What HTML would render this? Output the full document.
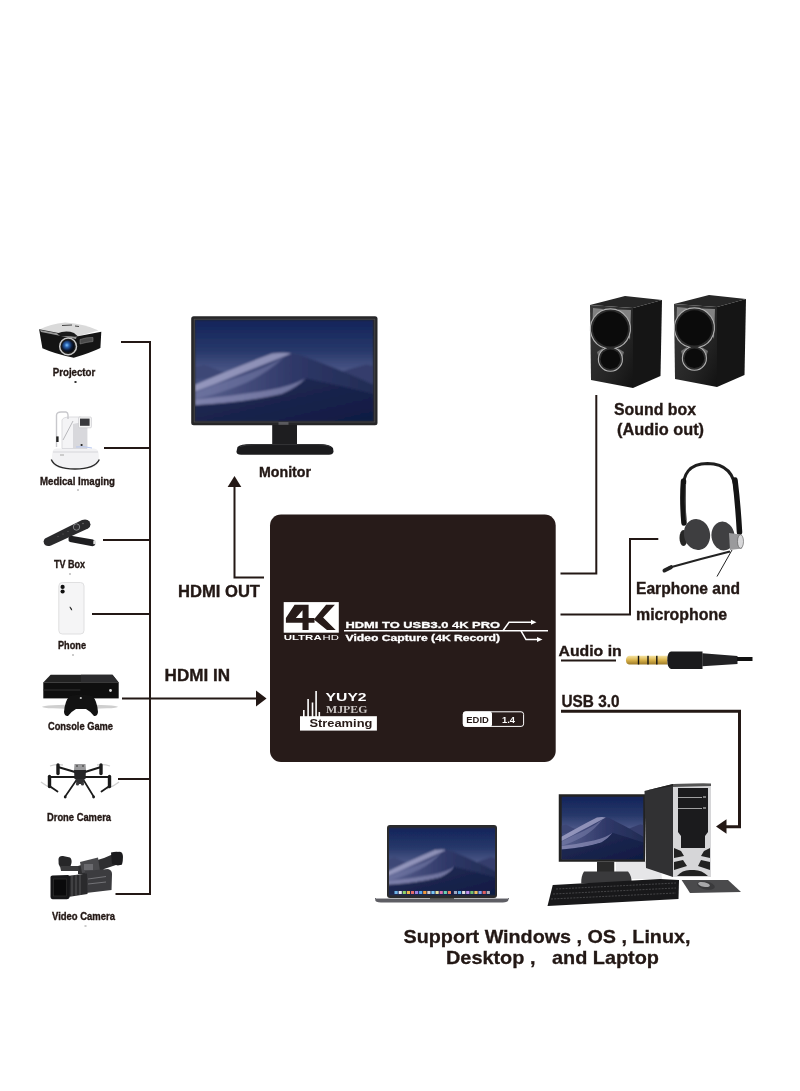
<!DOCTYPE html>
<html><head><meta charset="utf-8">
<style>
html,body{margin:0;padding:0;background:#fff;width:800px;height:1091px;overflow:hidden}
svg{position:absolute;left:0;top:0;display:block;will-change:transform}
text{font-family:"Liberation Sans",sans-serif}
</style></head><body>
<svg width="800" height="1091" viewBox="0 0 800 1091">
<defs>
  <filter id="soft" x="-5%" y="-5%" width="110%" height="110%"><feGaussianBlur stdDeviation="5"/></filter>
  <symbol id="moj" viewBox="0 0 740 410" preserveAspectRatio="none">
    <g filter="url(#soft)">
    <rect width="740" height="410" fill="url(#sky)"/>
    <path d="M0 190 L40 182 L100 205 L180 225 L0 240 Z" fill="#3e4676"/>
    <path d="M560 225 L640 200 L710 180 L740 185 L740 270 L600 250 Z" fill="#353e6c"/>
    <path d="M0 262 Q170 190 320 136 Q380 128 430 140 Q600 200 740 262 L740 410 L0 410 Z" fill="url(#dune)"/>
    <path d="M0 262 Q170 190 320 136 Q370 130 400 136 Q300 175 170 225 Q80 262 0 290 Z" fill="#a2a4c8" opacity="0.8"/>
    <path d="M0 295 Q100 255 200 225 Q300 190 370 150 Q300 215 210 255 Q100 300 0 320 Z" fill="#7a80ac" opacity="0.55"/>
    <path d="M0 322 Q150 310 300 285 Q400 268 460 236 Q420 275 360 300 Q250 330 0 345 Z" fill="#9294bc" opacity="0.65"/>
    <path d="M0 345 Q200 335 360 300 Q430 270 460 236 Q600 265 740 300 L740 410 L0 410 Z" fill="url(#fg)"/>
  </g>
  </symbol>
  <linearGradient id="sky" x1="0" y1="0" x2="0" y2="1">
    <stop offset="0" stop-color="#13245a"/>
    <stop offset="0.3" stop-color="#27386a"/>
    <stop offset="0.5" stop-color="#4a5686"/>
    <stop offset="1" stop-color="#2a3360"/>
  </linearGradient>
  <linearGradient id="fg" x1="0" y1="0" x2="1" y2="1">
    <stop offset="0" stop-color="#252e58"/>
    <stop offset="1" stop-color="#0f1a42"/>
  </linearGradient>
  <linearGradient id="dune" x1="0" y1="0" x2="1" y2="0">
    <stop offset="0" stop-color="#5a618f"/>
    <stop offset="0.55" stop-color="#2f3868"/>
    <stop offset="1" stop-color="#222c54"/>
  </linearGradient>
  <radialGradient id="lens" cx="0.4" cy="0.4" r="0.6">
    <stop offset="0" stop-color="#7cc4ff"/>
    <stop offset="0.3" stop-color="#2a62b0"/>
    <stop offset="0.7" stop-color="#0c1a36"/>
    <stop offset="1" stop-color="#050810"/>
  </radialGradient>
  <linearGradient id="silver" x1="0" y1="0" x2="1" y2="1">
    <stop offset="0" stop-color="#f2f2f2"/>
    <stop offset="1" stop-color="#b8b8b8"/>
  </linearGradient>
  <linearGradient id="gold" x1="0" y1="0" x2="0" y2="1">
    <stop offset="0" stop-color="#f4e2a0"/>
    <stop offset="0.5" stop-color="#d9b24a"/>
    <stop offset="1" stop-color="#9c7a28"/>
  </linearGradient>
  <linearGradient id="spk" x1="0" y1="0" x2="1" y2="1">
    <stop offset="0" stop-color="#3a3a3a"/>
    <stop offset="0.6" stop-color="#262626"/>
    <stop offset="1" stop-color="#121212"/>
  </linearGradient>

  <linearGradient id="scr" x1="0" y1="0" x2="0" y2="1">
    <stop offset="0" stop-color="#1d2a4e"/>
    <stop offset="0.55" stop-color="#3a4a78"/>
    <stop offset="1" stop-color="#15203e"/>
  </linearGradient>
</defs>
<rect width="800" height="1091" fill="#fff"/>

<!-- LEFT TREE LINES -->
<g stroke="#231815" stroke-width="2" fill="none">
  <path d="M121 342 H150 V894 H115.5"/>
  <path d="M104 448 H150"/>
  <path d="M103 540 H150"/>
  <path d="M92 614 H150"/>
  <path d="M122 698.5 H258"/>
  <path d="M118 779 H150"/>
  <!-- HDMI OUT -->
  <path d="M264 577.5 H234.5 V484"/>
  <!-- right side -->
  <path d="M560.5 573.5 H596.3 V395"/>
  <path d="M560.5 614.5 H630 V539 H658.3"/>
  <path d="M561 660.5 H616" stroke-width="2.2"/>
  <path d="M561 711.3 H739.5 V826.8 H724" stroke-width="3"/>
</g>
<path d="M234.5 476 L227.6 487 L241.3 487 Z" fill="#231815"/>
<path d="M266.5 698.5 L256 690.5 L256 706.5 Z" fill="#231815"/>
<path d="M716 826.5 L726.5 819.3 L726.5 833.7 Z" fill="#231815"/>

<!-- BOX -->
<rect x="270" y="514.5" width="285.7" height="247.5" rx="11" fill="#271b19"/>


<!-- BOX CONTENT -->
<rect x="283.7" y="602.1" width="55.1" height="30.6" fill="#fff"/>
<path fill="#271b19" fill-rule="evenodd" d="M294.6 604.7 L308.6 604.7 L308.6 617.9 L314.5 617.9 L314.5 622.7 L308.6 622.7 L308.6 630.1 L302.5 630.1 L302.5 622.7 L285.9 622.7 L285.9 617.9 Z M295.8 617.9 L302.5 617.9 L302.5 610.2 Z"/>
<path fill="#271b19" d="M326.1 604.7 L334.9 604.7 L323.1 617.4 L335.7 630.1 L327 630.1 L313.9 619.6 Z"/>
<text x="283.7" y="640.4" font-size="8" font-weight="bold" fill="#fff" textLength="38" lengthAdjust="spacingAndGlyphs">ULTRA</text>
<text x="322.5" y="640.4" font-size="8" fill="#fff" textLength="16.3" lengthAdjust="spacingAndGlyphs">HD</text>
<text x="345.5" y="627.9" font-size="9.3" font-weight="bold" fill="#fff" stroke="#fff" stroke-width="0.3" textLength="154.5" lengthAdjust="spacingAndGlyphs">HDMI TO USB3.0 4K PRO</text>
<text x="345.5" y="641" font-size="9" font-weight="bold" fill="#fff" stroke="#fff" stroke-width="0.3" textLength="154.5" lengthAdjust="spacingAndGlyphs">Video Capture (4K Record)</text>
<g stroke="#fff" stroke-width="1.5" fill="none">
  <path d="M344 630.8 H548"/>
  <path d="M503 630.8 L509 622.3 H533"/>
  <path d="M521 630.8 L526 639.5 H539"/>
</g>
<path d="M536.5 622.3 L531 619.8 L531 624.8 Z" fill="#fff"/>
<path d="M542.5 639.5 L537 637 L537 642 Z" fill="#fff"/>
<!-- streaming -->
<g fill="#fff">
  <rect x="303" y="710" width="1.6" height="7"/>
  <rect x="307.3" y="699" width="1.6" height="18"/>
  <rect x="311.7" y="702.5" width="1.6" height="14.5"/>
  <rect x="315.3" y="691" width="1.6" height="26"/>
  <rect x="318.5" y="712" width="1.6" height="5"/>
  <rect x="300" y="716.2" width="76.9" height="14.4"/>
</g>
<text x="309.4" y="727.3" font-size="10.3" font-weight="bold" fill="#271b19" textLength="63" lengthAdjust="spacingAndGlyphs">Streaming</text>
<text x="325.6" y="701.3" font-size="10.5" font-weight="bold" fill="#fff" textLength="41" lengthAdjust="spacingAndGlyphs">YUY2</text>
<text x="326" y="713" font-size="11" font-weight="bold" fill="#c9c4c2" font-family="Liberation Serif" style="font-family:'Liberation Serif',serif" textLength="41.5" lengthAdjust="spacingAndGlyphs">MJPEG</text>
<!-- EDID -->
<rect x="463.2" y="711.8" width="60.4" height="14.6" rx="2.5" fill="#271b19" stroke="#fff" stroke-width="1"/>
<rect x="463" y="711.5" width="29" height="15.2" rx="2.5" fill="#fff"/>
<text x="466.3" y="722.6" font-size="8.3" font-weight="bold" fill="#271b19" textLength="22.5" lengthAdjust="spacingAndGlyphs">EDID</text>
<text x="502" y="722.6" font-size="8.3" font-weight="bold" fill="#fff" textLength="13" lengthAdjust="spacingAndGlyphs">1.4</text>


<!-- MONITOR -->
<rect x="191.2" y="316.2" width="186.3" height="109" rx="2.5" fill="#262628"/>
<rect x="194.2" y="319.2" width="180.6" height="102.8" fill="none" stroke="#4a4a4e" stroke-width="0.8"/>
<use href="#moj" x="195" y="320" width="178.5" height="101.2"/>
<rect x="278.5" y="422" width="10" height="2.8" fill="#5a5a5e"/>
<rect x="272.2" y="425" width="24.8" height="20" fill="#1e1e20"/>
<path d="M237.5 447 Q240 444 252 444 L318 444 Q330 444 333 448 L333.5 451.5 Q333 454.7 329 454.7 L241 454.7 Q236.5 454.7 236.5 451.5 Z" fill="#1b1b1d"/>
<path d="M240 446.5 Q245 444.6 255 444.6 L316 444.6 Q327 444.6 331 447" fill="none" stroke="#38383a" stroke-width="0.9"/>

<!-- PROJECTOR -->
<path d="M39.5 329.5 Q50 324 65.2 322.6 Q85 324 98.5 330.5 L76.6 336.4 Z" fill="#dadada"/>
<path d="M39.1 329.3 L76.6 336.4 L101.3 331.7 L100.4 348 Q90 353 73.8 357.8 Q55 354 42.4 348.3 Z" fill="#141414"/>
<path d="M40 330 L76.6 337 L76 339 L41 332 Z" fill="#9a9a9a"/>
<path d="M57 333.5 Q66 330 74 333 L78 336.5 L60 336 Z" fill="#1a1a1a"/>
<circle cx="68.1" cy="346.4" r="8.4" fill="#1a1a1a" stroke="#c8c8c8" stroke-width="1.5"/>
<circle cx="68.1" cy="346.4" r="6.2" fill="url(#lens)"/>
<path d="M80 339.5 Q87 337 93 337.5 L93 341.5 Q87 342 80 344 Z" fill="#4a4a4a" stroke="#888" stroke-width="0.5"/>
<path d="M62 325.5 L72 325 M75 326 L79 326.5" stroke="#333" stroke-width="0.9"/>

<!-- MEDICAL -->
<path d="M52.5 452 Q53 448.5 57 448.5 L94 448.5 Q98 449 98.5 452.5 L99 460 Q98 467.5 90 468 L60 468 Q52 467 51.5 460 Z" fill="#f2f2f4"/>
<path d="M51.3 459.5 Q55 469 75 469 Q95 469 99.3 459.5" fill="none" stroke="#2a2a2a" stroke-width="1.4"/>
<path d="M53 452 L98 452" stroke="#d6d6da" stroke-width="1"/>
<rect x="60" y="454" width="4" height="2" fill="#ccc"/>
<path d="M62 448.5 L62 420 Q63 417 70 417 L80 417 L87 420 L87 448.5 Z" fill="#f4f4f6" stroke="#d0d0d4" stroke-width="0.7"/>
<path d="M73 424 L87 421 L87 448.5 L73 448.5 Z" fill="#d8d8dc"/>
<path d="M63 440 L73 421" stroke="#b8b8bc" stroke-width="1"/>
<path d="M56.5 447 L56.5 415 Q57 412 61 412 L66 412 Q68 412.5 68 415 L68 419" fill="none" stroke="#c8c8cc" stroke-width="1.4"/>
<rect x="78.6" y="417" width="12.8" height="10.8" rx="1" fill="#f6f6f6" stroke="#c0c0c4" stroke-width="0.6"/>
<rect x="80" y="418.6" width="9.6" height="7.2" fill="#3a3a3e"/>
<rect x="56.2" y="436.4" width="2.4" height="5.6" fill="#222"/>
<circle cx="81.6" cy="445" r="1.1" fill="#222"/>
<path d="M76 447 Q84 446 92 448" stroke="#b8c8f0" stroke-width="1" fill="none"/>

<!-- TV BOX -->
<path d="M69.5 535.5 L93 539.5 Q95.5 540.5 95.5 543 L95 545 Q94 546.5 91 546 L70 542 Q68 541 68.5 538 Z" fill="#1e1e20"/>
<rect x="93.3" y="540.6" width="2.6" height="3.6" fill="#e0e0e0"/>
<path d="M45 538.5 L82 520 Q87 518.5 89.5 521.5 L90.5 524.5 Q90.5 527 88 528.5 L51 545.5 Q46 547 44.2 544 L43.6 541.5 Q43.8 539.5 45 538.5 Z" fill="#2a2a2c"/>
<circle cx="76.5" cy="527" r="3.2" fill="#303032" stroke="#8a8a8c" stroke-width="0.9"/>
<circle cx="83" cy="523.5" r="0.7" fill="#777"/><circle cx="68" cy="531.5" r="0.6" fill="#666"/><circle cx="63" cy="534" r="0.6" fill="#666"/><circle cx="58" cy="536.5" r="0.6" fill="#666"/>

<!-- PHONE -->
<rect x="58.8" y="582.5" width="25.2" height="51.5" rx="3.5" fill="#f5f5f6" stroke="#dcdcde" stroke-width="0.9"/>
<circle cx="62.6" cy="586.9" r="2.1" fill="#111"/>
<circle cx="62.6" cy="591.5" r="2.1" fill="#111"/>
<path d="M70 606.5 Q72 608 72.3 610.2 L71.3 610.3 Q70 608.5 69.5 607 Z" fill="#222"/>

<!-- CONSOLE -->
<ellipse cx="80" cy="706.8" rx="38" ry="2.2" fill="#cfcfcf"/>
<path d="M50.6 674.7 L112.5 674.7 L118.7 682.6 L43.3 682.6 Z" fill="#222"/>
<path d="M81 674.7 L112.5 674.7 L118.7 682.6 L81 682.6 Z" fill="#2c2c2e"/>
<rect x="43.3" y="682.2" width="75.4" height="0.8" fill="#555"/>
<rect x="43.3" y="682.6" width="75.4" height="15.8" fill="#0f0f0f"/>
<rect x="43.3" y="689.6" width="37" height="0.8" fill="#3a3a3a"/>
<circle cx="110.5" cy="690.5" r="1.4" fill="#ddd"/>
<path d="M70 696 Q81 693 92 696 Q97 700 98 712 Q97.5 716.5 94 716 Q90 711 86 709 L76 709 Q72 711 68 716 Q64.5 716.5 64 712 Q65 700 70 696 Z" fill="#121212"/>
<circle cx="80.8" cy="698" r="1.1" fill="#ccc"/>

<!-- DRONE -->
<path d="M41 782 Q46 786 53 789 M119 782 Q114 786 107 789 M50 766 Q56 764 63 765 M110 766 Q104 764 97 765" stroke="#d0d0d0" stroke-width="1.3" fill="none"/>
<g stroke="#1a1a1a" fill="none" stroke-linecap="round">
  <path d="M75 772 L58 767" stroke-width="2.2"/>
  <path d="M85 772 L101 767" stroke-width="2.2"/>
  <path d="M75 777 L49.5 777" stroke-width="2.2"/>
  <path d="M85 777 L109.5 777" stroke-width="2.2"/>
  <path d="M76.5 780 L65.2 796.5" stroke-width="1.7"/>
  <path d="M83.5 780 L93.6 796.5" stroke-width="1.7"/>
  <path d="M58 765 V773.5" stroke-width="3.4"/>
  <path d="M101 765 V773.5" stroke-width="3.4"/>
  <path d="M49.5 776.5 V786.5" stroke-width="3.4"/>
  <path d="M109.5 776.5 V786.5" stroke-width="3.4"/>
  <path d="M49.5 786 L57.5 791.5" stroke-width="1.8"/>
  <path d="M109.5 786 L101.5 791.5" stroke-width="1.8"/>
</g>
<circle cx="65.2" cy="797" r="1.4" fill="#1a1a1a"/><circle cx="93.6" cy="797" r="1.4" fill="#1a1a1a"/>
<path d="M74.5 764 L85.5 764 L86 770 L74 770 Z" fill="#9a9a9c"/>
<rect x="76" y="765" width="2" height="2" fill="#666"/><rect x="82" y="765" width="2" height="2" fill="#666"/>
<path d="M74 770 L86 770 L85.5 779 L74.5 779 Z" fill="#262628"/>
<path d="M75.5 779 L84.5 779 L83.5 784 L76.5 784 Z" fill="#303032"/>
<circle cx="77.5" cy="784" r="1.6" fill="#3a3a3c"/><circle cx="82.5" cy="784" r="1.6" fill="#3a3a3c"/>

<!-- VIDEO CAMERA -->
<path d="M78 866 L104 858 L118 852 Q123 851 123 857 L122 864 Q120 866 116 865 L104 869 L100 874 L78 874 Z" fill="#2e2e30"/>
<path d="M111 852.5 Q118 851 121.5 853 Q123.5 858 122 864.5 Q117 866 112 864 Z" fill="#1c1c1e"/>
<path d="M80 862 L98 857.5 L100 871 L82 873 Z" fill="#4a4a4d"/>
<rect x="84" y="864" width="9" height="6" fill="#6a6a6e"/>
<path d="M58.5 859 Q59 855.5 63 856 L70 857.5 Q72 859 71.5 863 L70 868 L60 867 Q58 864 58.5 859 Z" fill="#262628"/>
<path d="M60 866 L78 866 L79 871 L61 871 Z" fill="#3a3a3c"/>
<path d="M85 871 L108 869 Q112 870 112 874 L111.5 890 L86 893 Z" fill="#3c3c3f"/>
<path d="M67 876 L87 873.5 L87.5 894 L68 897 Z" fill="#2a2a2c"/>
<g stroke="#77777a" stroke-width="0.6"><path d="M72 875.5 V896"/><path d="M76 875 V895.5"/><path d="M80 874.5 V895"/></g>
<path d="M88 879 L106 876.5 M88 884 L106 882" stroke="#8a8a8e" stroke-width="0.7"/>
<path d="M50.5 877 Q50.5 875.5 52.5 875.5 L68 875 Q70 875.5 70 877.5 L69.5 897.5 Q69 899.3 67 899.3 L52.5 899.3 Q50.5 899 50.5 897 Z" fill="#161618"/>
<rect x="53.5" y="879" width="13" height="17" fill="#0a0a0b" stroke="#333" stroke-width="0.6"/>

<!-- SPEAKERS -->
<g id="spkr">
  <path d="M590 305 L625 296 L662 300 L633 308 Z" fill="#262626"/>
  <path d="M633 308 L662 300 L660.5 376 L633 388 Z" fill="#151515"/>
  <path d="M590 305 L633 308 L633 388 L591 380 Z" fill="url(#spk)"/>
  <path d="M593 308 L603 309 L592 335 Z" fill="#9a9a9a" opacity="0.75"/>
  <path d="M618 309.5 L631 310 L630 340 Z" fill="#a0a0a0" opacity="0.75"/>
  <path d="M597 352 L603 348 L600 362 Z M624 352 L617.5 348 L621 362 Z" fill="#8a8a8a" opacity="0.7"/>
  <path d="M605.58 348.31 A20 20 0 1 1 615.22 348.31 A12 12 0 1 1 605.58 348.31 Z" fill="#2c2c2c" stroke="#b0b0b0" stroke-width="1.1"/>
  <circle cx="610.4" cy="328.9" r="17.6" fill="#0b0b0b"/>
  <circle cx="610.4" cy="359.3" r="9.8" fill="#0b0b0b"/>
</g>
<use href="#spkr" x="84" y="-1"/>

<!-- HEADSET -->
<path d="M683.5 492 Q681 464 707.5 463.5 Q734.5 464 735.5 492" fill="none" stroke="#1e1e1e" stroke-width="3"/>
<path d="M683.5 481 Q682 500 684 523" fill="none" stroke="#141414" stroke-width="5.5" stroke-linecap="round"/>
<path d="M735 480 Q738 505 739.5 532" fill="none" stroke="#141414" stroke-width="5.5" stroke-linecap="round"/>
<path d="M685.5 484 Q684.5 502 686 520" fill="none" stroke="#555" stroke-width="0.8"/>
<ellipse cx="683.5" cy="538" rx="4" ry="8" fill="#262626"/>
<ellipse cx="697" cy="534.5" rx="13" ry="15.6" transform="rotate(-12 697 534.5)" fill="#3e3e40"/>
<ellipse cx="723" cy="536" rx="11.5" ry="14.5" transform="rotate(-8 723 536)" fill="#404042"/>
<path d="M729 533 L740.5 534.5 Q743.5 541 742 548.5 L730 550 Z" fill="#9a9a9c"/>
<ellipse cx="740.5" cy="541.5" rx="3" ry="6.8" fill="#d8d8da" stroke="#555" stroke-width="0.6"/>
<path d="M730 551.5 Q700 559 668 568" fill="none" stroke="#222" stroke-width="2.2"/>
<path d="M671 567.2 L664.5 570.5" stroke="#222" stroke-width="4" stroke-linecap="round"/>
<path d="M732 550 L717 576.5" stroke="#222" stroke-width="1"/>

<!-- AUDIO JACK -->
<path d="M629 655.8 L667.5 655.8 L667.5 664.5 L629 664.5 Q626 664 626 660.2 Q626 656.5 629 655.8 Z" fill="url(#gold)"/>
<g fill="#111"><rect x="637.8" y="655.8" width="1.4" height="8.7"/><rect x="647.3" y="655.8" width="1.4" height="8.7"/><rect x="656.1" y="655.8" width="1.4" height="8.7"/></g>
<path d="M671 651.4 L702.5 651.4 L702.5 668.9 L671 668.9 Q667.3 668 667.3 660.2 Q667.3 652 671 651.4 Z" fill="#1a1a1c"/>
<path d="M702.3 653.3 L737.5 656 L737.5 664 L702.3 666.3 Z" fill="#222224"/>
<rect x="737" y="657" width="15.5" height="4" fill="#111"/>

<!-- DESKTOP PC -->
<path d="M616 861 L660 861 L662 879 L616 879 Z" fill="#e6e6e8"/>
<rect x="558.75" y="794.25" width="86.25" height="67.5" fill="#222"/>
<use href="#moj" x="561.5" y="796.5" width="82" height="63"/>
<rect x="597" y="861.75" width="17.25" height="12.75" fill="#2a2a2a"/>
<path d="M584 871.5 L628 871.5 Q632 876 631.5 883.5 L581.25 883.5 Q581 876 584 871.5 Z" fill="#3a3a3c"/>
<path d="M644.5 791 L673 784 L673 877 L646 868 Z" fill="#313133"/>
<path d="M644.5 791 L673 784 L711 783.5 L673 786 Z" fill="#222"/>
<rect x="673" y="784" width="38" height="93" fill="#d6d6d8"/>
<path d="M673 784 L711 783.5 L711 786 L673 787 Z" fill="#555"/>
<path d="M678 788 L708 788 L708 832 L705 836 L705 848 L681 848 L681 836 L678 832 Z" fill="#1b1b1d"/>
<path d="M678 797.5 H702 M678 808.5 H702" stroke="#b0b0b0" stroke-width="0.9"/>
<path d="M703 797 h3 M703 808 h3" stroke="#ddd" stroke-width="1"/>
<path d="M674 848 L681 851 L684 856 L674 858 Z M710 848 L704 851 L701 856 L710 858 Z" fill="#222"/>
<path d="M674 862 L683 860 L687 866 L674 870 Z M710 862 L701 860 L698 866 L710 870 Z" fill="#222"/>
<path d="M677 876 Q683 869 692 870 Q701 869 708 876 Z" fill="#222"/>
<path d="M648 800 V866 M652 799 V867 M656 798 V869 M660 797 V871 M664 796 V872 M668 795 V874" stroke="#333335" stroke-width="0.7"/>
<path d="M552.75 885 L660 879 L679 880 L678.5 899 L547.5 906 Z" fill="#18181a"/>
<path d="M556 889 L676 883 M553 894 L676 888 M551 899 L676 893" stroke="#4a4a4c" stroke-width="0.9" stroke-dasharray="2 1.2"/>
<path d="M681.6 880 L728 880 L741 892 L690 893 Z" fill="#4a4a4c"/>
<ellipse cx="706" cy="885.5" rx="9" ry="4" transform="rotate(12 706 885.5)" fill="#3a3a3c"/>
<ellipse cx="704" cy="884.5" rx="6" ry="2.2" transform="rotate(12 704 884.5)" fill="#a8a8aa"/>

<!-- LAPTOP -->
<rect x="387" y="825" width="110" height="73" rx="3" fill="#2a2a2c"/>
<use href="#moj" x="389" y="827.5" width="106" height="68"/>

<rect x="394.5" y="891" width="3.2" height="3" fill="#6fb5e8"/>
<rect x="398.6" y="891" width="3.2" height="3" fill="#e7e7ef"/>
<rect x="402.7" y="891" width="3.2" height="3" fill="#8fd36a"/>
<rect x="406.8" y="891" width="3.2" height="3" fill="#f0b74a"/>
<rect x="410.9" y="891" width="3.2" height="3" fill="#e56b6b"/>
<rect x="415.0" y="891" width="3.2" height="3" fill="#9a7fe0"/>
<rect x="419.1" y="891" width="3.2" height="3" fill="#55a7f0"/>
<rect x="423.2" y="891" width="3.2" height="3" fill="#f29a3a"/>
<rect x="427.3" y="891" width="3.2" height="3" fill="#cfcfd6"/>
<rect x="431.4" y="891" width="3.2" height="3" fill="#7ac7f5"/>
<rect x="435.5" y="891" width="3.2" height="3" fill="#e8e0a0"/>
<rect x="439.6" y="891" width="3.2" height="3" fill="#d86fb0"/>
<rect x="443.7" y="891" width="3.2" height="3" fill="#6ad0b0"/>
<rect x="447.8" y="891" width="3.2" height="3" fill="#f07a5a"/>
<rect x="453.9" y="891" width="3.2" height="3" fill="#a0a8c0"/>
<rect x="458.0" y="891" width="3.2" height="3" fill="#58b0e8"/>
<rect x="462.1" y="891" width="3.2" height="3" fill="#e0e0e0"/>
<rect x="466.2" y="891" width="3.2" height="3" fill="#c090f0"/>
<rect x="470.3" y="891" width="3.2" height="3" fill="#70c070"/>
<rect x="474.4" y="891" width="3.2" height="3" fill="#f0c060"/>
<rect x="478.5" y="891" width="3.2" height="3" fill="#80a0f0"/>
<rect x="482.6" y="891" width="3.2" height="3" fill="#e06060"/>
<rect x="486.7" y="891" width="3.2" height="3" fill="#b0b0b8"/>
<path d="M375 898 L509 898 L508 901 Q506 902.6 500 902.6 L384 902.6 Q377 902.6 375.5 901 Z" fill="#5e5e64"/>
<rect x="376" y="898" width="132" height="1" fill="#b4b4b8"/>
<rect x="430" y="898" width="24" height="1.5" fill="#555"/>


<g fill="#333">
  <rect x="74.5" y="381" width="2" height="2"/>
  <rect x="77" y="489.5" width="2" height="1" fill="#999"/>
  <rect x="69" y="573.5" width="2" height="1" fill="#999"/>
  <rect x="72" y="654.5" width="2" height="1" fill="#999"/>
  <rect x="84.5" y="925.5" width="2" height="1" fill="#999"/>
</g>
<!-- LABELS -->
<g font-weight="bold" fill="#231815" stroke="#231815" stroke-width="0.35">
  <text x="74" y="375.8" font-size="10.5" text-anchor="middle" textLength="42.5" lengthAdjust="spacingAndGlyphs">Projector</text>
  <text x="77.5" y="485" font-size="10.5" text-anchor="middle" textLength="75" lengthAdjust="spacingAndGlyphs">Medical Imaging</text>
  <text x="69.5" y="567.8" font-size="10.5" text-anchor="middle" textLength="31" lengthAdjust="spacingAndGlyphs">TV Box</text>
  <text x="72" y="649.3" font-size="10.5" text-anchor="middle" textLength="28" lengthAdjust="spacingAndGlyphs">Phone</text>
  <text x="80.5" y="730" font-size="10.5" text-anchor="middle" textLength="65" lengthAdjust="spacingAndGlyphs">Console Game</text>
  <text x="79" y="821" font-size="10.5" text-anchor="middle" textLength="64" lengthAdjust="spacingAndGlyphs">Drone Camera</text>
  <text x="83.5" y="920" font-size="10.5" text-anchor="middle" textLength="63" lengthAdjust="spacingAndGlyphs">Video Camera</text>
  <text x="285" y="477.2" font-size="14" text-anchor="middle" textLength="52" lengthAdjust="spacingAndGlyphs">Monitor</text>
  <text x="178" y="597" font-size="16" textLength="82" lengthAdjust="spacingAndGlyphs">HDMI OUT</text>
  <text x="164.6" y="681" font-size="16" textLength="65.4" lengthAdjust="spacingAndGlyphs">HDMI IN</text>
  <text x="614" y="415.3" font-size="16" textLength="82" lengthAdjust="spacingAndGlyphs">Sound box</text>
  <text x="617" y="435" font-size="16" textLength="87" lengthAdjust="spacingAndGlyphs">(Audio out)</text>
  <text x="636" y="594.3" font-size="16" textLength="104" lengthAdjust="spacingAndGlyphs">Earphone and</text>
  <text x="636" y="620.2" font-size="16" textLength="91" lengthAdjust="spacingAndGlyphs">microphone</text>
  <text x="558.5" y="656.3" font-size="15" textLength="63.2" lengthAdjust="spacingAndGlyphs">Audio in</text>
  <text x="561.5" y="707" font-size="16.5" textLength="58" lengthAdjust="spacingAndGlyphs">USB 3.0</text>
  <text x="403.6" y="943.3" font-size="19" stroke-width="0.3" textLength="286.8" lengthAdjust="spacingAndGlyphs">Support Windows , OS , Linux,</text>
  <text xml:space="preserve" x="446" y="963.9" font-size="19" stroke-width="0.3" textLength="213" lengthAdjust="spacingAndGlyphs">Desktop ,   and Laptop</text>
</g>
</svg>
</body></html>
